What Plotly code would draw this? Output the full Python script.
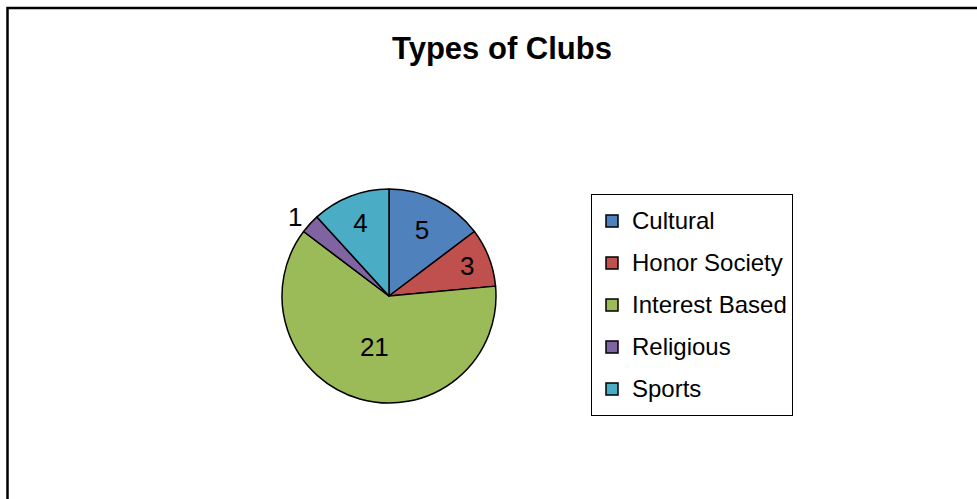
import plotly.graph_objects as go

categories = ["Cultural", "Honor Society", "Interest Based", "Religious", "Sports"]
values = [5, 3, 21, 1, 4]
colors = ["#4F81BD", "#C0504D", "#9BBB59", "#8064A2", "#4BACC6"]
label_pos = ["inside", "inside", "inside", "outside", "inside"]

W, H = 977, 499
cx, cy, r = 389, 296, 107

legend_labels = ["<span style='font-size:24px;baseline-shift:4px'>%s</span>" % c for c in categories]

fig = go.Figure(go.Pie(
    labels=legend_labels,
    values=values,
    sort=False,
    direction="clockwise",
    rotation=0,
    marker=dict(colors=colors, line=dict(color="black", width=1.5)),
    textinfo="value",
    textposition=label_pos,
    insidetextorientation="horizontal",
    textfont=dict(family="Liberation Sans, Arial, sans-serif", size=26, color="black"),
    outsidetextfont=dict(family="Liberation Sans, Arial, sans-serif", size=26, color="black"),
    domain=dict(x=[(cx - r) / W, (cx + r) / W], y=[1 - (cy + r) / H, 1 - (cy - r) / H]),
    hoverinfo="label+value",
))

fig.update_layout(
    width=W, height=H,
    margin=dict(l=0, r=0, t=0, b=0),
    paper_bgcolor="white",
    font=dict(family="Liberation Sans, Arial, sans-serif", color="black"),
    title=dict(text="<b>Types of Clubs</b>", x=502 / W, xanchor="center",
               y=1 - 48 / H, yanchor="middle",
               font=dict(size=31, color="black", family="Liberation Sans, Arial, sans-serif")),
    legend=dict(x=591 / W, y=1 - 194 / H, xanchor="left", yanchor="top",
                bordercolor="black", borderwidth=1, bgcolor="white",
                font=dict(size=30, color="black")),
    shapes=[dict(type="rect", xref="paper", yref="paper",
                 x0=7.5 / W, x1=1.05, y0=-0.05, y1=1 - 8 / H,
                 line=dict(color="black", width=2.5))],
)

fig.write_html("out.html")
